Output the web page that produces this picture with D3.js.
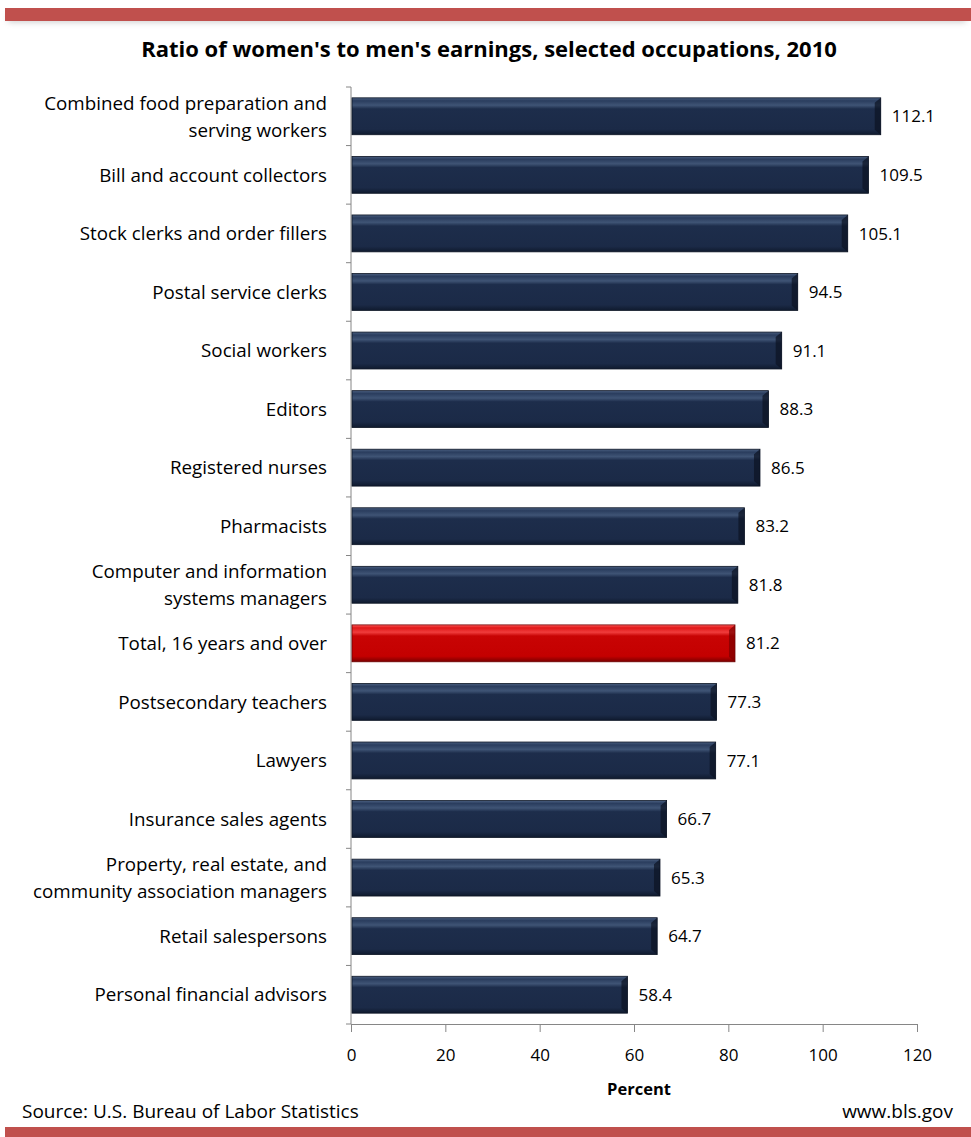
<!DOCTYPE html>
<html><head><meta charset="utf-8">
<script src="https://cdn.jsdelivr.net/npm/d3@7"></script>
<style>body{margin:0;background:#fff;} svg{display:block;font-family:"Open Sans",Lato,sans-serif;}</style>
</head><body><svg id="c" width="971" height="1137"></svg>
<script>
const categories = [
 ["Combined food preparation and","serving workers"],
 ["Bill and account collectors"],
 ["Stock clerks and order fillers"],
 ["Postal service clerks"],
 ["Social workers"],
 ["Editors"],
 ["Registered nurses"],
 ["Pharmacists"],
 ["Computer and information","systems managers"],
 ["Total, 16 years and over"],
 ["Postsecondary teachers"],
 ["Lawyers"],
 ["Insurance sales agents"],
 ["Property, real estate, and","community association managers"],
 ["Retail salespersons"],
 ["Personal financial advisors"]
];
const values = [112.1,109.5,105.1,94.5,91.1,88.3,86.5,83.2,81.8,81.2,77.3,77.1,66.7,65.3,64.7,58.4];
const highlight = [false,false,false,false,false,false,false,false,false,true,false,false,false,false,false,false];
const xTicks = [0,20,40,60,80,100,120];

const svg = d3.select("#c");
const defs = svg.append("defs");
function grad(id, stops){
  const g = defs.append("linearGradient").attr("id",id).attr("x1",0).attr("x2",0).attr("y1",0).attr("y2",1);
  stops.forEach(s=>g.append("stop").attr("offset",s[0]).attr("stop-color",s[1]));
}
grad("navy",[[0,"#4a5f80"],[0.08,"#2a3d5e"],[0.2,"#3f5475"],[0.3,"#1d2d4b"],[0.85,"#1b2a47"],[1,"#0f1a2e"]]);
grad("red",[[0,"#ff5a5a"],[0.08,"#e01818"],[0.2,"#f03c3c"],[0.3,"#c80404"],[0.85,"#c40000"],[1,"#7a0000"]]);
const sh = defs.append("filter").attr("id","sh").attr("x","-5%").attr("y","-50%").attr("width","110%").attr("height","300%");
sh.append("feGaussianBlur").attr("stdDeviation",3);

svg.append("rect").attr("x",8).attr("y",14).attr("width",958).attr("height",8).attr("fill","#999").attr("opacity",0.5).attr("filter","url(#sh)");
svg.append("rect").attr("x",5).attr("y",8).attr("width",966).attr("height",13).attr("fill","#c0504d");
svg.append("rect").attr("x",5).attr("y",1127).attr("width",966).attr("height",10).attr("fill","#c0504d");

svg.append("text").attr("x",489).attr("y",57).attr("text-anchor","middle")
  .style("font-size","22px").style("font-weight","bold").attr("fill","#000")
  .text("Ratio of women's to men's earnings, selected occupations, 2010");

const x = d3.scaleLinear().domain([0,120]).range([351,917]);
const y = d3.scaleBand().domain(d3.range(values.length)).range([87,1024]).paddingInner(0.37).paddingOuter(0.185);

const yAx = svg.append("g").attr("transform","translate(351,0)");
yAx.append("line").attr("x1",0).attr("x2",0).attr("y1",87).attr("y2",1024).attr("stroke","#868686");
const step = y.step();
d3.range(values.length+1).forEach(i=>{
  const yy = 87 + i*step;
  yAx.append("line").attr("x1",-5).attr("x2",0).attr("y1",yy).attr("y2",yy).attr("stroke","#868686");
});
const xAx = svg.append("g").attr("transform","translate(0,1024)")
  .call(d3.axisBottom(x).tickValues(xTicks).tickSize(8).tickSizeOuter(0));
xAx.select(".domain").attr("stroke","#868686");
xAx.selectAll(".tick line").attr("stroke","#868686");
xAx.selectAll(".tick text").attr("y",25).style("font-size","17px").style("font-family","'Open Sans',Lato,sans-serif").attr("fill","#000");

svg.append("text").attr("x",639).attr("y",1095).attr("text-anchor","middle")
  .style("font-size","16.5px").style("font-weight","bold").text("Percent");

const bars = svg.append("g");
values.forEach((v,i)=>{
  const y0 = y(i), h = y.bandwidth(), x0 = x(0), w = x(v)-x(0);
  bars.append("rect").attr("x",x0+1).attr("y",y0).attr("width",w).attr("height",h)
    .attr("fill",highlight[i]?"url(#red)":"url(#navy)").attr("stroke",highlight[i]?"#6b0000":"#0c1424").attr("stroke-width",0.8);
  bars.append("path").attr("d",`M${x0+1+w-6},${y0+5} L${x0+1+w},${y0} L${x0+1+w},${y0+h} L${x0+1+w-6},${y0+h-5} Z`)
    .attr("fill",highlight[i]?"#7a0000":"#0b1322").attr("opacity",0.7);
  bars.append("text").attr("x",x(v)+12).attr("y",y0+h/2).attr("dy","0.36em")
    .style("font-size","17px").attr("fill","#000").text(v.toFixed(1));
  const lines = categories[i];
  const cy = y0 + h/2;
  lines.forEach((t,j)=>{
    bars.append("text").attr("x",327).attr("y",cy + (j-(lines.length-1)/2)*27).attr("dy","0.36em")
      .attr("text-anchor","end").style("font-size","18.8px").attr("fill","#000").text(t);
  });
});

svg.append("text").attr("x",22).attr("y",1118).style("font-size","19px").text("Source: U.S. Bureau of Labor Statistics");
svg.append("text").attr("x",953).attr("y",1118).attr("text-anchor","end").style("font-size","19px").text("www.bls.gov");
</script></body></html>
